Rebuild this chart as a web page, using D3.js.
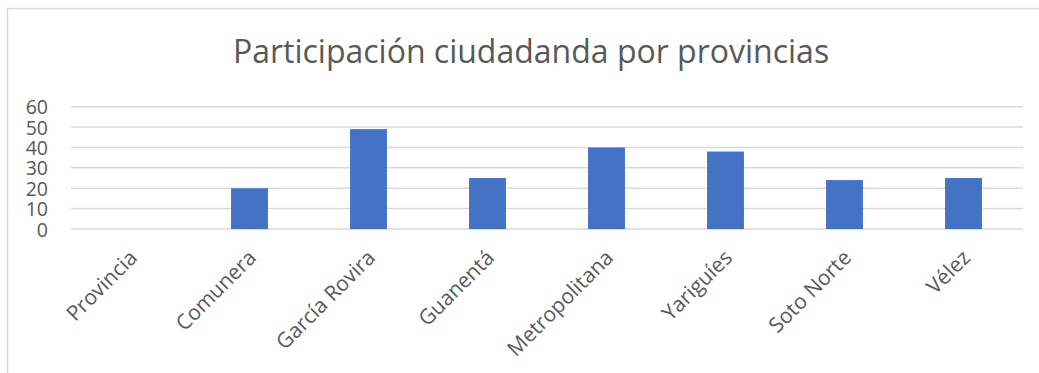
<!DOCTYPE html>
<html>
<head>
<meta charset="utf-8">
<script src="https://cdn.jsdelivr.net/npm/d3@7"></script>
<style>
  html, body { margin: 0; padding: 0; background: #fff; }
  svg { display: block; }
</style>
</head>
<body>
<svg id="chart" width="1039" height="373"></svg>
<script>
// Participación ciudadana por provincia
const provincias = ["Provincia", "Comunera", "García Rovira", "Guanentá", "Metropolitana", "Yariguíes", "Soto Norte", "Vélez"];
const participacion = [0, 20, 49, 25, 40, 38, 24, 25];
const yTicks = [0, 10, 20, 30, 40, 50, 60];
const titulo = "Participación ciudadanda por provincias";

const svg = d3.select("#chart");
const W = 1039, H = 373;
const font = "'Open Sans', 'Noto Sans', sans-serif";
const textColor = "#595959";
const gridColor = "#d9d9d9";

// chart frame
svg.append("rect")
  .attr("x", 7.5).attr("y", 8.5)
  .attr("width", W + 20).attr("height", H + 20)
  .attr("fill", "#fff")
  .attr("stroke", gridColor).attr("stroke-width", 1.5);

const plot = { left: 71, right: 1023, top: 106.7, bottom: 229 };

const x = d3.scaleBand()
  .domain(provincias)
  .range([plot.left, plot.right])
  .padding(0);

const y = d3.scaleLinear()
  .domain([0, 60])
  .range([plot.bottom, plot.top]);

// title
svg.append("text")
  .attr("x", 531).attr("y", 63)
  .attr("text-anchor", "middle")
  .attr("font-family", font)
  .attr("font-size", 32)
  .attr("fill", textColor)
  .text(titulo);

// horizontal gridlines
svg.append("g")
  .selectAll("line")
  .data(yTicks)
  .join("line")
  .attr("x1", plot.left).attr("x2", plot.right)
  .attr("y1", d => y(d)).attr("y2", d => y(d))
  .attr("stroke", gridColor).attr("stroke-width", 1.5);

// y axis labels
const yAxis = d3.axisLeft(y).tickValues(yTicks).tickSize(0).tickPadding(0);
const yg = svg.append("g")
  .attr("transform", `translate(${plot.left - 23},0)`)
  .call(yAxis);
yg.select(".domain").remove();
yg.selectAll("text")
  .attr("font-family", font)
  .attr("font-size", 19.5)
  .attr("fill", textColor)
  .attr("dy", "0.36em");

// bars
const barW = x.bandwidth() * 0.31;
svg.append("g")
  .selectAll("rect")
  .data(provincias.map((p, i) => ({ p, v: participacion[i] })))
  .join("rect")
  .attr("x", d => x(d.p) + x.bandwidth() / 2 - barW / 2)
  .attr("y", d => y(d.v))
  .attr("width", barW)
  .attr("height", d => y(0) - y(d.v))
  .attr("fill", "#4472c4");

// category labels (rotated)
const xAxis = d3.axisBottom(x).tickSize(0).tickPadding(0);
const xg = svg.append("g")
  .attr("transform", `translate(0,${plot.bottom})`)
  .call(xAxis);
xg.select(".domain").remove();
xg.selectAll("text")
  .attr("font-family", font)
  .attr("font-size", 21)
  .attr("fill", textColor)
  .attr("text-anchor", "end")
  .attr("dy", null)
  .attr("y", null)
  .attr("transform", "translate(8,30) rotate(-45)");
</script>
</body>
</html>
